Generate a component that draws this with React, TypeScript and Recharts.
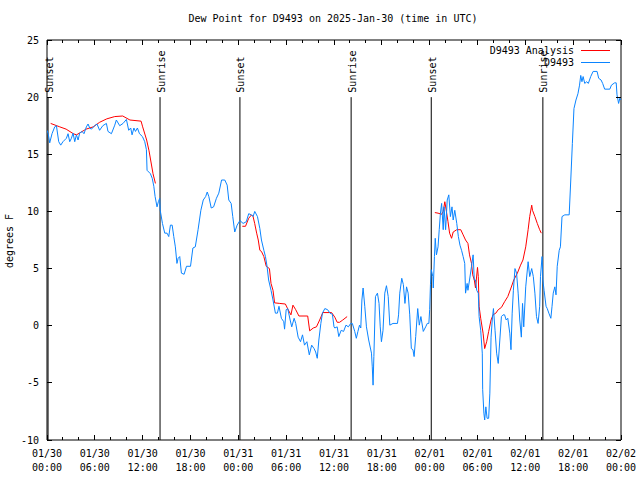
import React from 'react';
import { LineChart, Line, XAxis, YAxis, ReferenceLine, ReferenceArea } from 'recharts';

const FONT = '"DejaVu Sans Mono", monospace';
const PLOT_W = 574;
const PLOT_H = 400;

// hours since 01/30 00:00 UTC
const blueHours = [
  0, 0.15, 0.34, 0.63, 0.97, 1.18, 1.47, 1.72, 2.0, 2.43, 2.64, 2.85, 3.06, 3.27, 3.48, 3.69, 3.9, 4.1, 4.4, 4.64,
  4.94, 5.15, 5.36, 5.57, 5.98, 6.27, 6.6, 7.0, 7.45, 7.65, 8.08, 8.5, 8.7, 9.12, 9.54, 9.96, 10.25, 10.5, 10.67, 10.9,
  11.1, 11.34, 11.6, 11.97, 12.26, 12.47, 12.55, 12.97, 13.2, 13.4, 13.56, 13.8, 13.97, 14.14, 14.2, 14.48, 14.77, 15.06, 15.27, 15.48,
  15.7, 15.9, 16.1, 16.3, 16.45, 16.65, 16.86, 17.2, 17.5, 18.0, 18.3, 18.6, 18.95, 19.3, 19.6, 19.9, 20.1, 20.3, 20.6, 20.9,
  21.25, 21.55, 21.9, 22.3, 22.6, 22.8, 23.1, 23.3, 23.55, 23.85, 24.2, 24.6, 25.0, 25.3, 25.65, 25.85, 26.06, 26.4, 26.7, 26.9,
  27.2, 27.4, 27.6, 27.8, 28.1, 28.35, 28.65, 28.9, 29.1, 29.4, 29.7, 29.8, 30.0, 30.2, 30.5, 30.7, 31.0, 31.2, 31.5, 31.8,
  32.05, 32.3, 32.6, 32.9, 33.2, 33.5, 33.7, 33.9, 34.1, 34.35, 34.55, 34.85, 35.2, 35.5, 35.8, 36.0, 36.1, 36.4, 36.6, 36.9,
  37.2, 37.5, 37.8, 38.1, 38.3, 38.6, 38.8, 39.0, 39.2, 39.36, 39.5, 39.65, 39.86, 40.07, 40.35, 40.7, 40.8, 40.9, 41.0, 41.2,
  41.45, 41.65, 41.8, 41.95, 42.15, 42.37, 42.58, 42.8, 43.0, 43.4, 43.96, 44.1, 44.25, 44.5, 44.7, 44.9, 45.1, 45.3, 45.5, 45.7,
  45.9, 46.05, 46.25, 46.5, 46.7, 46.9, 47.2, 47.5, 47.7, 47.9, 48.0, 48.1, 48.2, 48.4, 48.45, 48.6, 48.7, 48.85, 49.05, 49.2,
  49.35, 49.5, 49.7, 49.8, 50.0, 50.2, 50.4, 50.6, 50.8, 50.95, 51.15, 51.4, 51.6, 51.8, 52.0, 52.2, 52.4, 52.5, 52.7, 52.8,
  53.0, 53.25, 53.45, 53.6, 53.75, 53.9, 54.1, 54.2, 54.4, 54.6, 54.65, 54.8, 54.9, 55.05, 55.2, 55.4, 55.55, 55.7, 55.85, 56.0,
  56.2, 56.4, 56.6, 56.8, 57.0, 57.2, 57.4, 57.6, 57.8, 58.05, 58.2, 58.35, 58.5, 58.7, 58.9, 59.1, 59.3, 59.5, 59.65, 59.8,
  60.05, 60.35, 60.55, 60.8, 61.0, 61.2, 61.4, 61.6, 61.8, 61.9, 62.1, 62.2, 62.35, 62.6, 62.75, 62.95, 63.2, 63.35, 63.5, 63.7,
  63.85, 64.0, 64.25, 64.4, 64.6, 64.95, 65.5, 65.7, 65.9, 66.1, 66.35, 66.6, 66.8, 66.95, 67.1, 67.25, 67.45, 67.7, 67.9, 68.2,
  68.5, 69.0, 69.2, 69.5, 69.7, 69.95, 70.6, 70.8, 71.2, 71.4, 71.5, 71.7, 71.85, 72,
];
const blueDew = [
  17.1, 16.8, 16.0, 16.8, 17.4, 17.5, 16.1, 15.8, 16.1, 16.4, 16.8, 16.1, 16.4, 16.85, 16.1, 16.7, 16.25, 16.85, 17.0, 16.8,
  17.4, 17.65, 17.3, 17.2, 17.5, 17.65, 17.1, 17.5, 17.7, 17.0, 16.8, 17.55, 18.0, 17.5, 17.7, 18.05, 17.1, 17.3, 16.7, 17.3,
  17.0, 17.3, 16.8, 16.55, 16.1, 15.4, 13.6, 13.3, 12.9, 12.2, 11.3, 10.4, 10.85, 11.15, 10.1, 8.95, 8.1, 8.1, 7.8, 8.8,
  8.8, 7.8, 6.9, 5.45, 5.9, 6.05, 4.6, 4.5, 5.2, 5.2, 6.8, 6.9, 8.4, 10.1, 11.0, 11.3, 11.7, 11.3, 10.3, 10.4,
  11.15, 11.6, 12.75, 12.75, 12.3, 11.0, 10.7, 9.55, 8.2, 8.8, 9.2, 8.95, 9.1, 9.8, 9.7, 9.55, 10.0, 9.55, 8.5, 7.5,
  6.6, 6.05, 5.2, 4.0, 3.1, 2.25, 1.1, 1.1, 1.7, 0.65, 0.35, -0.3, 1.4, 1.5, 0.5, -0.1, 0.65, 0.2, -1.0, -1.4,
  -0.8, -1.7, -1.4, -2.55, -1.7, -2.0, -2.3, -2.85, -1.25, 0.2, 1.1, 1.5, 1.4, 1.1, 1.0, -0.1, -0.2, -0.1, -0.95, -0.4,
  -0.5, 0.05, -0.1, 0.2, 0.2, -0.5, -1.1, -0.5, 0.05, -0.2, 2.25, 3.3, 1.7, -0.1, -1.25, -2.4, -3.6, -5.2, -2.7, 2.55,
  2.85, 1.95, -0.1, -1.4, -0.4, 2.85, 3.5, 2.55, 0.05, 0.2, 0.2, 0.95, 2.85, 4.15, 3.6, 1.95, 3.4, 2.85, 0.95, -2.0,
  -2.1, -2.7, -0.95, 1.5, 0.05, 0.8, -0.5, -0.1, 0.2, 0.2, 1.4, 3.6, 4.9, 4.3, 3.3, 6.05, 7.65, 6.2, 6.9, 8.4,
  9.85, 10.7, 8.4, 10.4, 8.4, 11.0, 11.45, 9.55, 10.4, 9.25, 10.1, 8.95, 7.8, 7.05, 6.6, 6.05, 5.45, 2.85, 3.7, 3.1,
  4.0, 5.2, 6.2, 4.0, 4.0, 3.1, 2.85, 0.8, -0.4, -2.4, -5.6, -7.65, -8.25, -7.1, -8.1, -8.1, -5.9, -1.0, 0.5, 1.5,
  -0.4, -2.4, -3.3, -1.25, 0.8, 0.95, 0.95, 0.5, 0.65, -0.65, -2.1, 1.1, 3.1, 5.0, 4.6, 2.85, 0.5, -1.0, 1.95, -0.1,
  3.4, 5.6, 4.3, 5.0, 4.3, 2.85, 0.8, 0.2, 1.7, 4.3, 6.05, 4.0, 3.1, 1.7, 1.5, 1.1, 0.65, 1.7, 2.85, 3.4,
  2.7, 5.2, 6.6, 6.9, 9.55, 9.7, 9.7, 12.75, 15.95, 19.0, 19.75, 20.3, 21.05, 21.9, 21.35, 21.8, 21.2, 21.35, 21.2, 21.8,
  22.25, 22.25, 21.65, 21.5, 21.2, 20.7, 20.7, 21.05, 21.25, 21.25, 20.2, 19.45, 19.9, 19.75,
];

// analysis series, null marks the gaps between runs
const redHours = [
  0.46, 1.6, 2.4, 3.3, 3.7, 4.9, 5.8, 6.6, 7.5, 8.5, 9.5, 10.4, 11.8, 12.0, 12.5, 12.8, 13.0, 13.3, 13.6,
  19,
  24.5, 24.9, 25.3, 25.65, 25.85, 26.05, 26.3, 26.5, 26.7, 26.9, 27.2, 27.5, 27.9, 28.1, 28.35, 28.55, 29.2, 29.9, 30.25, 30.6,
  30.85, 31.2, 31.6, 32.7, 32.95, 33.4, 33.8, 34.2, 34.6, 35.7, 36.1, 36.4, 36.7, 37.1, 37.65,
  43,
  48.65, 49.05, 49.5, 49.7, 49.9, 50.1, 50.3, 50.5, 50.75, 50.95, 51.4, 51.9, 52.2, 52.5, 52.8, 53.0, 53.25, 53.4, 53.6, 53.75,
  54.0, 54.1, 54.2, 54.4, 54.7, 54.9, 55.15, 55.4, 55.7, 55.95, 56.3, 56.6, 57.0, 57.4, 57.8, 58.2, 58.55, 59.0, 59.4, 59.7,
  60.05, 60.35, 60.55, 60.8, 60.9, 61.2, 61.5, 61.8, 62.0,
];
const redDew = [
  17.7, 17.4, 17.2, 16.8, 16.7, 17.2, 17.4, 17.8, 18.1, 18.3, 18.35, 18.0, 17.9, 17.4, 16.25, 15.3, 14.5, 13.3, 12.45,
  null,
  8.7, 8.7, 9.4, 9.7, 9.55, 8.95, 8.1, 7.5, 6.6, 6.5, 6.05, 5.2, 5.0, 3.7, 3.1, 2.0, 1.95, 1.9, 1.4, 0.95,
  1.8, 1.4, 0.85, 0.85, -0.45, -0.2, -0.1, 0.5, 1.15, 1.15, 0.75, 0.3, 0.3, 0.5, 0.8,
  null,
  9.9, 9.85, 9.75, 10.0, 10.85, 10.0, 9.1, 8.1, 7.65, 8.2, 8.4, 8.4, 7.95, 7.5, 7.2, 6.2, 5.45, 4.45, 4.0, 3.3,
  5.1, 4.3, 1.7, 0.65, -0.65, -2.0, -1.4, -0.5, 0.5, 0.95, 1.1, 1.4, 1.6, 2.1, 2.55, 3.3, 4.0, 4.6, 5.3, 5.75,
  6.9, 8.4, 9.55, 10.55, 10.1, 9.55, 8.95, 8.4, 8.1,
];

const sunHours = [0.13, 14.18, 24.2, 38.15, 48.2, 62.2];
const sunLabels = ['Sunset', 'Sunrise', 'Sunset', 'Sunrise', 'Sunset', 'Sunrise'];

const xTicks = [0, 2, 4, 6, 8, 10, 12, 14, 16, 18, 20, 22, 24, 26, 28, 30, 32, 34, 36, 38, 40, 42, 44, 46, 48, 50, 52, 54, 56, 58, 60, 62, 64, 66, 68, 70, 72];
const xLabelHours = [0, 6, 12, 18, 24, 30, 36, 42, 48, 54, 60, 66, 72];
const xLabelDates = ['01/30', '01/30', '01/30', '01/30', '01/31', '01/31', '01/31', '01/31', '02/01', '02/01', '02/01', '02/01', '02/02'];
const xLabelTimes = ['00:00', '06:00', '12:00', '18:00', '00:00', '06:00', '12:00', '18:00', '00:00', '06:00', '12:00', '18:00', '00:00'];
const yTicks = [-10, -5, 0, 5, 10, 15, 20, 25];

const RED = '#ff0000';
const BLUE = '#0a84ff';

const blueData = blueHours.map((h, i) => ({ h, dew: blueDew[i] }));
const redData = redHours.map((h, i) => ({ h, dew: redDew[i] }));

function XTick({ x, y, payload }: any) {
  const idx = xLabelHours.indexOf(payload.value);
  const len = idx >= 0 ? 5 : 3;
  return (
    <g>
      <line x1={x} y1={y} x2={x} y2={y - len} stroke="#000" shapeRendering="crispEdges" />
      <line x1={x} y1={y - PLOT_H} x2={x} y2={y - PLOT_H + len} stroke="#000" shapeRendering="crispEdges" />
      {idx >= 0 && (
        <text x={x} y={y + 17} textAnchor="middle" fontFamily={FONT} fontSize={10} fill="#000">
          <tspan x={x}>{xLabelDates[idx]}</tspan>
          <tspan x={x} dy={14}>{xLabelTimes[idx]}</tspan>
        </text>
      )}
    </g>
  );
}

function YTick({ x, y, payload }: any) {
  return (
    <g>
      <line x1={x} y1={y} x2={x + 5} y2={y} stroke="#000" shapeRendering="crispEdges" />
      <line x1={x + PLOT_W} y1={y} x2={x + PLOT_W - 5} y2={y} stroke="#000" shapeRendering="crispEdges" />
      <text x={x - 8} y={y + 3.5} textAnchor="end" fontFamily={FONT} fontSize={10} fill="#000">
        {payload.value}
      </text>
    </g>
  );
}

function SunLabel({ viewBox, text }: any) {
  const x = viewBox.x + 4.5;
  const y = viewBox.y - 4.5;
  return (
    <text x={x} y={y} transform={`rotate(-90 ${x} ${y})`} fontFamily={FONT} fontSize={10} fill="#000">
      {text}
    </text>
  );
}

function LegendBox() {
  const rows = [
    { label: 'D9493 Analysis', color: RED },
    { label: 'D9493', color: BLUE },
  ];
  return (
    <div style={{ position: 'absolute', top: 44, left: 0, width: 610, fontFamily: FONT, fontSize: 10 }}>
      {rows.map((r) => (
        <div key={r.label} style={{ display: 'flex', justifyContent: 'flex-end', alignItems: 'center', height: 12 }}>
          <span>{r.label}</span>
          <span style={{ display: 'inline-block', width: 29, height: 1, background: r.color, marginLeft: 7 }} />
        </div>
      ))}
    </div>
  );
}

export default function App() {
  return (
    <div style={{ position: 'absolute', left: 0, top: 0, width: 640, height: 480, background: '#fff' }}>
      <div
        style={{
          position: 'absolute', left: 0, top: 13, width: 666, textAlign: 'center',
          fontFamily: FONT, fontSize: 10, lineHeight: '12px',
        }}
      >
        Dew Point for D9493 on 2025-Jan-30 (time in UTC)
      </div>
      <div
        style={{
          position: 'absolute', left: -30, top: 235, width: 80, height: 12, lineHeight: '12px',
          textAlign: 'center', transform: 'rotate(-90deg)', fontFamily: FONT, fontSize: 10,
        }}
      >
        degrees F
      </div>
      <LineChart width={640} height={480} margin={{ top: 40, right: 19, bottom: 0, left: 0 }}>
        <XAxis
          type="number"
          dataKey="h"
          domain={[0, 72]}
          ticks={xTicks}
          interval={0}
          height={40}
          tickSize={0}
          tickMargin={0}
          axisLine={false}
          tickLine={false}
          tick={<XTick />}
          allowDataOverflow
        />
        <YAxis
          type="number"
          domain={[-10, 25]}
          ticks={yTicks}
          interval={0}
          width={47}
          tickSize={0}
          tickMargin={0}
          axisLine={false}
          tickLine={false}
          tick={<YTick />}
          allowDataOverflow
        />
        <ReferenceArea x1={0} x2={72} y1={-10} y2={25} fill="none" fillOpacity={0} stroke="#000" strokeWidth={1} />
        {sunHours.map((h, i) => (
          <ReferenceLine
            key={h}
            segment={[{ x: h, y: 20 }, { x: h, y: -10 }]}
            stroke="#000"
            strokeWidth={1}
            label={<SunLabel text={sunLabels[i]} />}
          />
        ))}
        <Line
          data={redData}
          dataKey="dew"
          name="D9493 Analysis"
          type="linear"
          stroke={RED}
          strokeWidth={1}
          dot={false}
          connectNulls={false}
          isAnimationActive={false}
        />
        <Line
          data={blueData}
          dataKey="dew"
          name="D9493"
          type="linear"
          stroke={BLUE}
          strokeWidth={1}
          dot={false}
          isAnimationActive={false}
        />
      </LineChart>
      <LegendBox />
    </div>
  );
}
